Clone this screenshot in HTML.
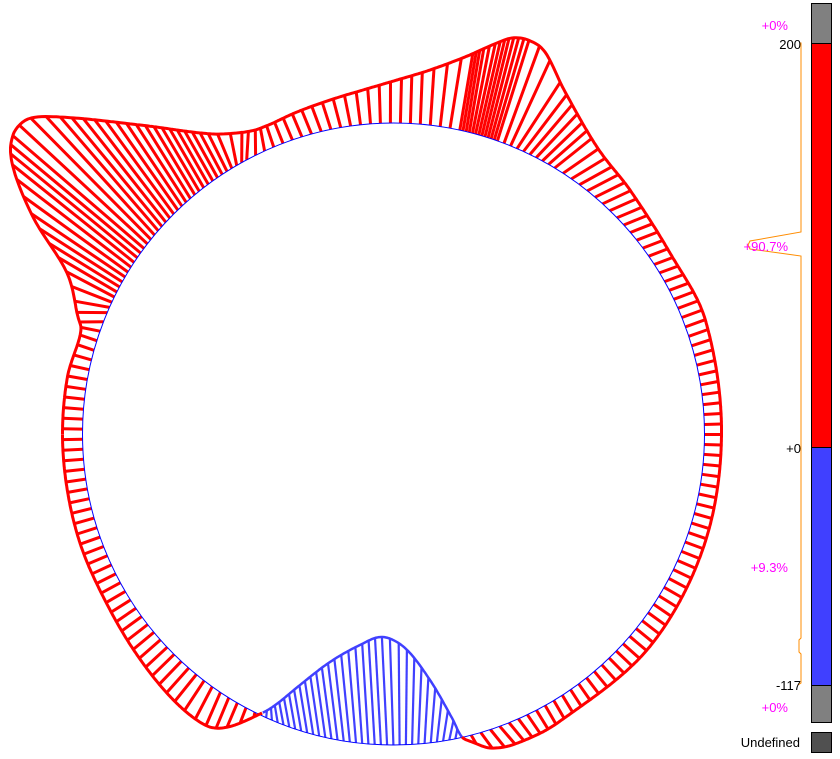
<!DOCTYPE html>
<html><head><meta charset="utf-8"><style>
html,body{margin:0;padding:0;background:#fff;width:840px;height:759px;overflow:hidden}
svg{display:block}
text{font-family:"Liberation Sans",sans-serif;font-size:13px}
</style></head><body>
<svg id="s" width="840" height="759" xmlns="http://www.w3.org/2000/svg">
<g id="plot"></g>
<rect x="811.5" y="3.5" width="20" height="40" fill="#808080" stroke="#000"/>
<rect x="811.5" y="43.5" width="20" height="404" fill="#ff0000" stroke="#000"/>
<rect x="811.5" y="447.5" width="20" height="238" fill="#4040ff" stroke="#000"/>
<rect x="811.5" y="685.5" width="20" height="37" fill="#808080" stroke="#000"/>
<rect x="811.5" y="732.5" width="20" height="20" fill="#505050" stroke="#000"/>
<path d="M800,43 L801,43 L801,232 L750,241 L748,245 L750,249 L801,256 L801,638 L799,640 L799,652 L801,654 L801,683 L798,685" fill="none" stroke="#ff8c00" stroke-width="1"/>
<g fill="#ff00ff" text-anchor="end">
<text x="788" y="30">+0%</text>
<text x="788" y="251">+90.7%</text>
<text x="788" y="572">+9.3%</text>
<text x="788" y="712">+0%</text>
</g>
<g fill="#000" text-anchor="end">
<text x="801" y="49">200</text>
<text x="801" y="453">+0</text>
<text x="801" y="690">-117</text>
<text x="800" y="747">Undefined</text>
</g>
</svg>
<script>
var cx=393.5,cy=434,r=311;
function rad(d){return d*Math.PI/180}
function P(t,R){return [cx+R*Math.cos(rad(t)),cy+R*Math.sin(rad(t))]}
var K=[
[-180,'R',331],[-170,'R',331],[-162,'R',329],[-157.1,77,313],[-153.97,67,273],[-149.9,33,217],[-146.7,13,167],
[-143.3,13,135],[-141.5,28,119],[-139.2,60,117],[-131.4,140,125],[-121.8,213,134],[-118.8,245,132],
[-112.8,266,126],[-106.2,297,112],[-100.3,330,100],[-95,363,90],[-89.5,397,80],[-83.8,430,70],
[-79,465,57],[-76,483,49],[-74.5,497,43],[-72.5,512,38],[-70.6,528,40],[-68.5,545,52],[-66.1,563,88],
[-57.3,597,147],[-47.9,630,190],[-34,670,253],[-20,'R',332],[0,'R',328],[20,'R',330],[40,'R',333],
[60,'R',332],[70,515,744],[74,490,748],[76,472,742],[77.3,462,737],[80,452,718],[84,430,680],
[88,405,648],[91,383,637],[95,360,645],[100,330,662],[106,300,685],[111,278,703],[115.2,262,713],
[120,228,727],[124,205,725],[130,'R',345],[140,'R',338],[150,'R',333],[160,'R',332],[170,'R',331]];
K=K.map(function(k){if(k[1]==='R'){var p=P(k[0],k[2]);return [k[0],p[0],p[1]]}return k});
var n=K.length;var KK=[];
for(var i=-2;i<n+2;i++){var j=(i+n)%n;var k=K[j];var off=i<0?-360:(i>=n?360:0);KK.push([k[0]+off,k[1],k[2]])}
function outer(t){
 while(t<-180)t+=360;while(t>=180)t-=360;
 for(var i=1;i<KK.length-2;i++){if(t>=KK[i][0]&&t<KK[i+1][0]){
  var p0=KK[i-1],p1=KK[i],p2=KK[i+1],p3=KK[i+2];var u=(t-p1[0])/(p2[0]-p1[0]);
  var h=p2[0]-p1[0];
  var res=[];
  for(var c=1;c<3;c++){
   var m1=(p2[c]-p0[c])/(p2[0]-p0[0])*h, m2=(p3[c]-p1[c])/(p3[0]-p1[0])*h;
   var u2=u*u,u3=u2*u;
   res.push((2*u3-3*u2+1)*p1[c]+(u3-2*u2+u)*m1+(-2*u3+3*u2)*p2[c]+(u3-u2)*m2);
  }
  return res;}}
 return P(t,330);
}
function isBlue(t){return t>77.3&&t<115.2}
function step(t){
 if(t>-158&&t<-119)return 1.05;
 if(t>-79&&t<-71)return 0.6;
 if(t>-71&&t<-60)return 1.3;
 if(t>77&&t<116)return 1.15;
 return 1.84;
}
var s='';
for(var t=-179.1;t<180;t+=step(t)){var a=P(t,r),b=outer(t);
 var bl=isBlue(t);
 s+='<line x1="'+a[0].toFixed(1)+'" y1="'+a[1].toFixed(1)+'" x2="'+b[0].toFixed(1)+'" y2="'+b[1].toFixed(1)+'" stroke="'+(bl?'#4040ff':'#ff0000')+'" stroke-width="'+(bl?2.2:3)+'"/>';}
s+='<circle cx="'+cx+'" cy="'+cy+'" r="'+r+'" fill="none" stroke="#0000ff" stroke-width="1"/>';
var blue='',rp1='',rp2='';
for(var t=77.3;t<=115.2;t+=0.25){var p=outer(t);blue+=p[0].toFixed(1)+','+p[1].toFixed(1)+' ';}
for(var t=-180;t<=77.3;t+=0.25){var p=outer(t);rp1+=p[0].toFixed(1)+','+p[1].toFixed(1)+' ';}
for(var t=115.2;t<=180.01;t+=0.25){var p=outer(t);rp2+=p[0].toFixed(1)+','+p[1].toFixed(1)+' ';}
var q=outer(77.3);rp1+=q[0]+','+q[1];
s+='<polyline points="'+rp1+'" fill="none" stroke="#ff0000" stroke-width="3" stroke-linejoin="round"/>';
s+='<polyline points="'+rp2+'" fill="none" stroke="#ff0000" stroke-width="3" stroke-linejoin="round"/>';
s+='<polyline points="'+blue+'" fill="none" stroke="#4040ff" stroke-width="2.5" stroke-linejoin="round"/>';
document.getElementById('plot').innerHTML=s;
</script>
</body></html>
